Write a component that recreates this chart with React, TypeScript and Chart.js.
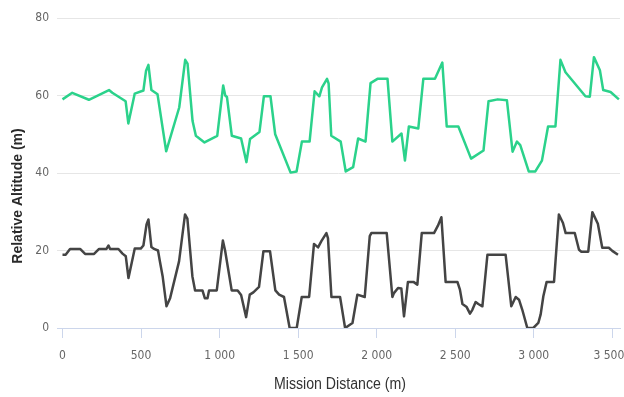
import React, { useEffect, useRef } from "react";
import { Chart, registerables } from "chart.js";

Chart.register(...registerables);

const xTickValues = [0, 500, 1000, 1500, 2000, 2500, 3000, 3500];
const yTickValues = [0, 20, 40, 60, 80];
const xAxisTitle = "Mission Distance (m)";
const yAxisTitle = "Relative Altitude (m)";

const greenDist = [
  0, 62, 168, 296, 317, 402, 419, 460, 515, 532, 547, 566, 605, 660, 743, 781, 796, 828, 849, 904,
  985, 1023, 1036, 1047, 1078, 1137, 1171, 1194, 1254, 1282, 1324, 1354, 1452, 1490, 1524, 1573,
  1605, 1635, 1652, 1684, 1694, 1711, 1771, 1803, 1850, 1882, 1929, 1961, 2005, 2069, 2100, 2158,
  2180, 2205, 2265, 2297, 2371, 2418, 2446, 2520, 2601, 2680, 2712, 2771, 2829, 2865, 2893, 2914,
  2968, 3010, 3052, 3091, 3138, 3170, 3202, 3329, 3357, 3383, 3421, 3442, 3489, 3542,
];
const greenAlt = [
  59, 60.7, 58.9, 61.4, 60.7, 58.5, 52.8, 60.5, 61.3, 66.4, 67.9, 61.4, 60.3, 45.6, 56.9, 69.2, 68.2,
  53.4, 49.6, 47.9, 49.6, 62.6, 60, 59.6, 49.6, 48.9, 42.8, 48.8, 50.6, 59.8, 59.8, 50, 40.1, 40.4,
  48.1, 48.1, 61.1, 59.8, 62.1, 64.3, 63.1, 49.6, 48.1, 40.4, 41.5, 48.9, 48.1, 63.2, 64.3, 64.3,
  48.1, 50.2, 43.2, 52, 51.5, 64.3, 64.3, 68.5, 52, 52, 43.7, 45.8, 58.5, 59, 58.8, 45.5, 48.1, 47.2,
  40.4, 40.4, 43.2, 52, 52, 69.2, 66, 59.8, 59.7, 69.9, 66.5, 61.4, 60.9, 59,
];

const grayDist = [
  0, 20, 48, 112, 144, 201, 233, 280, 293, 303, 356, 382, 403, 420, 460, 498, 515, 535, 547, 566,
  583, 608, 619, 638, 662, 685, 742, 780, 795, 827, 844, 891, 906, 923, 933, 982, 1021, 1035, 1077,
  1115, 1137, 1169, 1192, 1215, 1251, 1279, 1321, 1355, 1379, 1410, 1446, 1491, 1523, 1570, 1601,
  1627, 1648, 1680, 1690, 1712, 1767, 1799, 1846, 1877, 1924, 1956, 1966, 2064, 2100, 2110, 2136,
  2157, 2174, 2199, 2234, 2259, 2287, 2365, 2390, 2412, 2439, 2514, 2530, 2546, 2573, 2594, 2609,
  2630, 2647, 2673, 2705, 2821, 2857, 2885, 2906, 2927, 2959, 2997, 3029, 3044, 3061, 3082, 3129,
  3160, 3186, 3203, 3261, 3288, 3303, 3347, 3373, 3408, 3436, 3478, 3500, 3536,
];
const grayAlt = [
  18.9, 18.9, 20.4, 20.4, 19.1, 19.1, 20.4, 20.4, 21.3, 20.4, 20.4, 19.2, 18.5, 12.9, 20.5, 20.5,
  21.3, 26.7, 28, 20.9, 20.4, 20, 17.4, 13.2, 5.6, 7.7, 17.2, 29.3, 28.2, 13.3, 9.7, 9.7, 7.7, 7.7,
  9.7, 9.7, 22.6, 20, 9.7, 9.7, 8.5, 2.8, 8.6, 9.2, 10.6, 19.8, 19.8, 9.7, 8.6, 8, 0, 0, 8, 8, 21.7,
  20.8, 22.4, 24.5, 23.2, 8, 8, 0, 1.3, 8.6, 8, 23.7, 24.5, 24.5, 8, 9, 10.3, 10.2, 3, 11.9, 11.9,
  11.2, 24.5, 24.5, 26.4, 28.6, 11.9, 11.9, 9.9, 6.2, 5.4, 3.7, 4.7, 6.7, 6.2, 5.6, 18.9, 18.9, 5.6,
  8, 7.3, 4.7, 0, 0, 1.3, 3.5, 8.2, 11.9, 11.9, 29.3, 27.1, 24.5, 24.5, 20.2, 19.7, 19.7, 29.9, 26.9,
  20.7, 20.7, 19.9, 18.9,
];

const tickFont = "'DejaVu Sans Condensed', 'Liberation Sans Narrow', 'Liberation Sans', sans-serif";

function fmt(v: number): string {
  return String(v).replace(/\B(?=(\d{3})+(?!\d))/g, " ");
}

export default function App() {
  const ref = useRef<HTMLCanvasElement | null>(null);

  useEffect(() => {
    document.body.style.margin = "0";
    const canvas = ref.current;
    if (!canvas) return;

    const titlesPlugin = {
      id: "axisTitles",
      afterDraw(chart: any) {
        const ctx = chart.ctx;
        // y axis title
        ctx.save();
        ctx.translate(18, 196);
        ctx.rotate(-Math.PI / 2);
        ctx.font = "bold 14px 'Liberation Sans', Arial, sans-serif";
        ctx.fillStyle = "#2a2a2a";
        ctx.textAlign = "center";
        ctx.textBaseline = "middle";
        ctx.fillText(yAxisTitle, 0, 0);
        ctx.restore();
        // x axis title (narrow)
        ctx.save();
        ctx.font = "16px 'Liberation Sans', Arial, sans-serif";
        const w = ctx.measureText(xAxisTitle).width;
        const sx = w > 0 ? 132 / w : 1;
        ctx.translate(340, 385);
        ctx.scale(sx, 1);
        ctx.fillStyle = "#333333";
        ctx.textAlign = "center";
        ctx.textBaseline = "middle";
        ctx.fillText(xAxisTitle, 0, 0);
        ctx.restore();
      },
    };

    const lastTick = xTickValues[xTickValues.length - 1];

    const chart = new Chart(canvas, {
      type: "line",
      data: {
        datasets: [
          {
            label: "Series 1",
            data: greenDist.map((d, i) => ({ x: d, y: greenAlt[i] })),
            borderColor: "#2bd28b",
            backgroundColor: "#2bd28b",
            borderWidth: 2.5,
            pointRadius: 0,
            tension: 0,
            borderJoinStyle: "round",
          },
          {
            label: "Series 2",
            data: grayDist.map((d, i) => ({ x: d, y: grayAlt[i] })),
            borderColor: "#444444",
            backgroundColor: "#444444",
            borderWidth: 2.5,
            pointRadius: 0,
            tension: 0,
            borderJoinStyle: "round",
          },
        ],
      },
      options: {
        responsive: false,
        animation: false,
        layout: { padding: { top: 18, right: 4, left: 0, bottom: 0 } },
        plugins: {
          legend: { display: false },
          tooltip: { enabled: false },
        },
        scales: {
          x: {
            type: "linear",
            min: -35,
            max: 3549,
            afterBuildTicks(scale: any) {
              scale.ticks = xTickValues.map((v) => ({ value: v }));
            },
            afterFit(scale: any) {
              scale.height = 69;
              scale.paddingLeft = 0;
              scale.paddingRight = 0;
            },
            border: { display: true, color: "#ccd6eb", width: 1 },
            grid: {
              drawOnChartArea: false,
              drawTicks: true,
              tickLength: 10,
              color: "#ccd6eb",
            },
            ticks: {
              padding: 11,
              maxRotation: 0,
              autoSkip: false,
              color: "#666666",
              font: { family: tickFont, size: 12 },
              callback: (v: any) => (Number(v) === lastTick ? fmt(Number(v)) + "  " : fmt(Number(v))),
            },
            title: { display: false },
          },
          y: {
            min: yTickValues[0],
            max: yTickValues[yTickValues.length - 1],
            afterBuildTicks(scale: any) {
              scale.ticks = yTickValues.map((v) => ({ value: v }));
            },
            afterFit(scale: any) {
              scale.width = 57;
              scale.paddingTop = 0;
              scale.paddingBottom = 0;
            },
            border: { display: false },
            grid: { color: "#e6e6e6", drawTicks: false, lineWidth: 1 },
            ticks: {
              padding: 8,
              color: "#666666",
              font: { family: tickFont, size: 12 },
            },
          },
        },
      },
      plugins: [titlesPlugin],
    });

    return () => chart.destroy();
  }, []);

  return (
    <div style={{ position: "absolute", left: 0, top: 0, width: 624, height: 397 }}>
      <canvas ref={ref} width={624} height={397} />
    </div>
  );
}
